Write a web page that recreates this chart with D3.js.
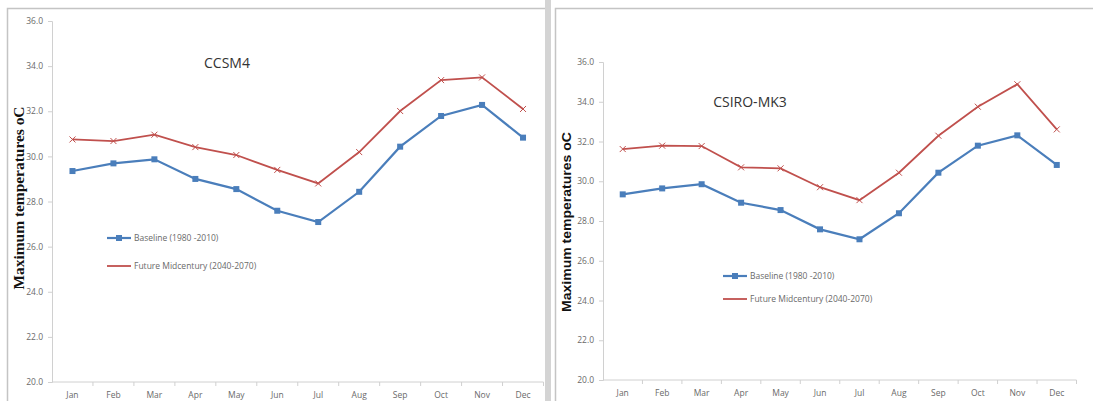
<!DOCTYPE html>
<html>
<head>
<meta charset="utf-8">
<script src="https://cdn.jsdelivr.net/npm/d3@7"></script>
<style>
  body { margin: 0; background: #fff; }
  svg { display: block; }
</style>
</head>
<body>
<script>
// data
var months = ["Jan","Feb","Mar","Apr","May","Jun","Jul","Aug","Sep","Oct","Nov","Dec"];
var yTicks = [20, 22, 24, 26, 28, 30, 32, 34, 36];
var seriesNames = ["Baseline (1980 -2010)", "Future Midcentury (2040-2070)"];
var ccsmBaseline = [29.35, 29.69, 29.87, 29.0, 28.55, 27.59, 27.09, 28.43, 30.43, 31.79, 32.28, 30.83];
var ccsmFuture   = [30.75, 30.68, 30.96, 30.41, 30.06, 29.4, 28.8, 30.19, 32.01, 33.38, 33.5, 32.1];
var csiroBaseline = [29.34, 29.64, 29.85, 28.92, 28.55, 27.58, 27.08, 28.39, 30.43, 31.79, 32.31, 30.82];
var csiroFuture   = [31.62, 31.79, 31.77, 30.7, 30.65, 29.7, 29.05, 30.43, 32.29, 33.75, 34.88, 32.61];

var W = 1093, H = 401;
var blue = "#4a7ebb", red = "#c0504d";

var svg = d3.select("body").append("svg").attr("width", W).attr("height", H);

// panel frames
svg.append("rect").attr("x", 7.5).attr("y", 8.5).attr("width", 540).attr("height", 410)
  .attr("fill", "none").attr("stroke", "#c4c4c4").attr("stroke-width", 1.5);
svg.append("rect").attr("x", 545).attr("y", 0).attr("width", 6).attr("height", H).attr("fill", "#d4d4d4");
svg.append("rect").attr("x", 555.5).attr("y", 8.5).attr("width", 560).attr("height", 410)
  .attr("fill", "none").attr("stroke", "#c4c4c4").attr("stroke-width", 1.5);

function panel(cfg) { //{{{
  var g = svg.append("g");
  var x = d3.scaleBand().domain(months).range([cfg.x0, cfg.x1]);
  var y = d3.scaleLinear().domain([20, 36]).range([cfg.yb, cfg.yt]);

  // y axis
  var yAxis = d3.axisLeft(y).tickValues(yTicks).tickSize(4).tickPadding(5)
    .tickFormat(d3.format(".1f"));
  var gy = g.append("g").attr("transform", "translate(" + cfg.x0 + ",0)").call(yAxis);
  gy.select(".domain").attr("stroke", "#d0d0d0");
  gy.selectAll(".tick line").attr("stroke", "#d0d0d0");
  gy.selectAll("text").attr("fill", "#6a6a6a").style("font-family", "Open Sans, sans-serif").style("font-size", "8.5px");

  // x axis, ticks between categories
  var gx = g.append("g").attr("transform", "translate(0," + cfg.yb + ")");
  gx.append("line").attr("x1", cfg.x0).attr("x2", cfg.x1).attr("stroke", "#d0d0d0");
  gx.selectAll("line.t").data(months.slice(1).concat(["end"])).join("line").attr("class", "t")
    .attr("x1", function(d, i) { return x(months[i]) + x.bandwidth(); })
    .attr("x2", function(d, i) { return x(months[i]) + x.bandwidth(); })
    .attr("y1", 0).attr("y2", 4).attr("stroke", "#d0d0d0");
  gx.selectAll("text").data(months).join("text")
    .attr("x", function(d) { return x(d) + x.bandwidth() / 2; })
    .attr("y", 16).attr("text-anchor", "middle").attr("fill", "#6a6a6a")
    .style("font-family", "Open Sans, sans-serif").style("font-size", "8.5px").text(function(d) { return d; });

  // lines
  var line = d3.line().x(function(d, i) { return x(months[i]) + x.bandwidth() / 2; }).y(function(d) { return y(d); });
  g.append("path").datum(cfg.base).attr("d", line).attr("fill", "none").attr("stroke", blue).attr("stroke-width", 2.2);
  g.append("path").datum(cfg.fut).attr("d", line).attr("fill", "none").attr("stroke", red).attr("stroke-width", 1.8);

  g.selectAll("rect.m").data(cfg.base).join("rect").attr("class", "m")
    .attr("x", function(d, i) { return x(months[i]) + x.bandwidth() / 2 - 3; })
    .attr("y", function(d) { return y(d) - 3; })
    .attr("width", 6).attr("height", 6).attr("fill", blue);
  g.selectAll("path.s").data(cfg.fut).join("path").attr("class", "s")
    .attr("transform", function(d, i) { return "translate(" + (x(months[i]) + x.bandwidth() / 2) + "," + y(d) + ")"; })
    .attr("d", "M-3,-3L3,3M-3,3L3,-3").attr("stroke", red).attr("stroke-width", 1);

  // title
  g.append("text").attr("x", cfg.tx).attr("y", cfg.ty).attr("text-anchor", "middle")
    .attr("fill", "#333").style("font-family", "Open Sans, sans-serif").style("font-size", "14px").text(cfg.title);

  // y title
  g.append("text").attr("transform", "translate(" + cfg.ax + "," + cfg.ay + ") rotate(-90)")
    .attr("text-anchor", "middle").attr("fill", "#111")
    .style("font-family", cfg.afont).style("font-weight", "bold").style("font-size", cfg.asize)
    .attr("textLength", cfg.alen).attr("lengthAdjust", "spacingAndGlyphs")
    .text("Maximum temperatures oC");

  // legend
  var cols = [blue, red];
  var lg = g.selectAll("g.lg").data(seriesNames).join("g").attr("class", "lg")
    .attr("transform", function(d, i) { return "translate(" + cfg.lx + "," + cfg.ly[i] + ")"; });
  lg.append("line").attr("x1", 0).attr("x2", 24).attr("stroke", function(d, i) { return cols[i]; })
    .attr("stroke-width", function(d, i) { return i ? 1.8 : 2.2; });
  lg.filter(function(d, i) { return i == 0; }).append("rect").attr("x", 9).attr("y", -3).attr("width", 6).attr("height", 6).attr("fill", blue);
  lg.append("text").attr("x", 27).attr("y", 3).attr("fill", "#6a6a6a")
    .style("font-family", "Open Sans, sans-serif").style("font-size", "8.5px").text(function(d) { return d; });
} //}}}

panel({ x0: 52, x1: 543.5, yt: 21, yb: 382, base: ccsmBaseline, fut: ccsmFuture,
  title: "CCSM4", tx: 227, ty: 68,
  ax: 24, ay: 198, afont: "Liberation Serif, serif", asize: "14px", alen: 183,
  lx: 107, ly: [238, 266] });

panel({ x0: 603, x1: 1076.5, yt: 62, yb: 380, base: csiroBaseline, fut: csiroFuture,
  title: "CSIRO-MK3", tx: 750, ty: 107,
  ax: 571, ay: 222, afont: "Liberation Sans, sans-serif", asize: "12.5px", alen: 180,
  lx: 723, ly: [276, 299] });
</script>
</body>
</html>
